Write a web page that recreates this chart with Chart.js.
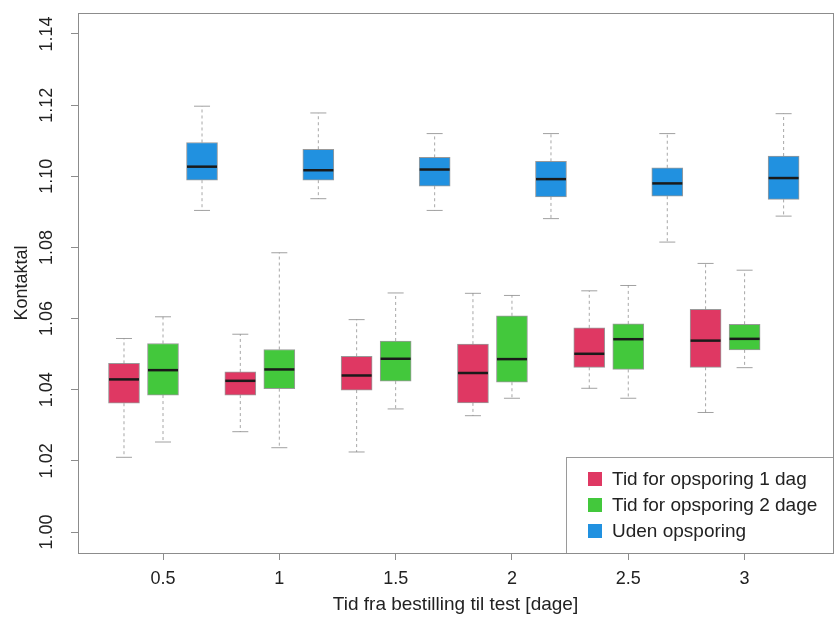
<!DOCTYPE html>
<html lang="da">
<head>
  <meta charset="UTF-8" />
  <title>Kontaktal</title>
  <style>
    html, body { margin: 0; padding: 0; background: #fff; }
    #wrap { width: 839px; height: 621px; }
  </style>
</head>
<body>
  <div id="wrap"><canvas id="boxChart"></canvas></div>

  <script src="https://cdn.jsdelivr.net/npm/chart.js"></script>
  <script>
    // x positions (days) and y tick values
    const tider = [0.5, 1, 1.5, 2, 2.5, 3];
    const yTicks = [1.00, 1.02, 1.04, 1.06, 1.08, 1.10, 1.12, 1.14];
    const serier = ['Tid for opsporing 1 dag', 'Tid for opsporing 2 dage', 'Uden opsporing'];
    const farver = ['#df3863', '#43c83c', '#2191e0'];

    // each row: [min, q1, median, q3, max]
    const opsporing1 = [
      [1.0210, 1.0362, 1.0429, 1.0474, 1.0544],
      [1.0282, 1.0385, 1.0425, 1.0450, 1.0556],
      [1.0225, 1.0399, 1.0440, 1.0494, 1.0597],
      [1.0327, 1.0363, 1.0447, 1.0528, 1.0671],
      [1.0404, 1.0463, 1.0501, 1.0574, 1.0678],
      [1.0336, 1.0463, 1.0538, 1.0626, 1.0755]
    ];
    const opsporing2 = [
      [1.0253, 1.0385, 1.0455, 1.0530, 1.0605],
      [1.0237, 1.0403, 1.0457, 1.0513, 1.0785],
      [1.0346, 1.0424, 1.0487, 1.0537, 1.0672],
      [1.0376, 1.0421, 1.0486, 1.0608, 1.0665],
      [1.0376, 1.0457, 1.0542, 1.0585, 1.0693],
      [1.0462, 1.0512, 1.0543, 1.0584, 1.0736]
    ];
    const udenOpsporing = [
      [1.0904, 1.0989, 1.1027, 1.1095, 1.1197],
      [1.0937, 1.0989, 1.1017, 1.1076, 1.1178],
      [1.0904, 1.0972, 1.1019, 1.1053, 1.1120],
      [1.0881, 1.0942, 1.0992, 1.1042, 1.1120],
      [1.0815, 1.0944, 1.0980, 1.1024, 1.1120],
      [1.0888, 1.0935, 1.0995, 1.1057, 1.1176]
    ];

    const alleSerier = [opsporing1, opsporing2, udenOpsporing];
    const forskydning = [-0.1677, 0, 0.1677];
    const fontFamily = '"Liberation Sans", Arial, Helvetica, sans-serif';

    const datasets = alleSerier.map((serie, i) => ({
      label: serier[i],
      data: serie.map((s, j) => ({ x: tider[j] + forskydning[i], y: [s[1], s[3]], stats: s })),
      backgroundColor: farver[i],
      borderColor: 'rgba(70,70,70,0.55)',
      borderWidth: 1,
      borderSkipped: false,
      barThickness: 31,
      grouped: false
    }));

    // whiskers, caps, medians, frame and legend
    const boxPlugin = {
      id: 'boxParts',
      afterDatasetsDraw(chart) {
        const ctx = chart.ctx;
        const yScale = chart.scales.y;
        ctx.save();
        chart.data.datasets.forEach((ds, i) => {
          const meta = chart.getDatasetMeta(i);
          meta.data.forEach((bar, j) => {
            const s = ds.data[j].stats;
            const cx = bar.x;
            const yMin = yScale.getPixelForValue(s[0]);
            const yQ1 = yScale.getPixelForValue(s[1]);
            const yMed = yScale.getPixelForValue(s[2]);
            const yQ3 = yScale.getPixelForValue(s[3]);
            const yMax = yScale.getPixelForValue(s[4]);

            ctx.strokeStyle = 'rgba(130,130,130,0.7)';
            ctx.lineWidth = 1;
            ctx.setLineDash([3, 3]);
            ctx.beginPath();
            ctx.moveTo(cx, yQ3); ctx.lineTo(cx, yMax);
            ctx.moveTo(cx, yQ1); ctx.lineTo(cx, yMin);
            ctx.stroke();

            ctx.setLineDash([]);
            ctx.strokeStyle = 'rgba(130,130,130,0.75)';
            ctx.beginPath();
            ctx.moveTo(cx - 8, yMax); ctx.lineTo(cx + 8, yMax);
            ctx.moveTo(cx - 8, yMin); ctx.lineTo(cx + 8, yMin);
            ctx.stroke();

            ctx.strokeStyle = '#1a1a1a';
            ctx.lineWidth = 2.5;
            ctx.beginPath();
            ctx.moveTo(cx - 15, yMed); ctx.lineTo(cx + 15, yMed);
            ctx.stroke();
          });
        });
        ctx.restore();
      },
      afterDraw(chart) {
        const ctx = chart.ctx;
        const a = chart.chartArea;
        ctx.save();

        // legend box in the lower right corner
        const lw = 267, lh = 96;
        const lx = a.right - lw, ly = a.bottom - lh;
        ctx.fillStyle = '#fff';
        ctx.fillRect(lx, ly, lw, lh);
        ctx.strokeStyle = '#9a9a9a';
        ctx.lineWidth = 1;
        ctx.strokeRect(lx + 0.5, ly + 0.5, lw, lh);
        ctx.font = '19px ' + fontFamily;
        ctx.textBaseline = 'middle';
        serier.forEach((navn, i) => {
          const rowY = ly + 22 + i * 26;
          ctx.fillStyle = farver[i];
          ctx.fillRect(lx + 22, rowY - 7, 14, 14);
          ctx.fillStyle = '#222';
          ctx.fillText(navn, lx + 46, rowY + 1);
        });

        // plot frame
        ctx.strokeStyle = '#8c8c8c';
        ctx.lineWidth = 1;
        ctx.strokeRect(a.left + 0.5, a.top + 0.5, a.right - a.left, a.bottom - a.top);
        ctx.restore();
      }
    };

    new Chart(document.getElementById('boxChart'), {
      type: 'bar',
      data: { datasets: datasets },
      options: {
        responsive: true,
        maintainAspectRatio: false,
        animation: false,
        layout: { padding: { top: 13, right: 6, left: 0, bottom: 0 } },
        plugins: {
          legend: { display: false },
          tooltip: { enabled: false }
        },
        scales: {
          x: {
            type: 'linear',
            offset: false,
            min: 0.1346,
            max: 3.38,
            afterBuildTicks: scale => { scale.ticks = tider.map(v => ({ value: v })); },
            afterFit: scale => { scale.height = 68; scale.paddingLeft = 0; scale.paddingRight = 0; },
            grid: { drawOnChartArea: false, offset: false, tickLength: 7, color: '#8c8c8c' },
            border: { display: false },
            ticks: {
              color: '#222',
              padding: 8,
              font: { size: 18, family: fontFamily },
              callback: v => String(v)
            },
            title: {
              display: true,
              text: 'Tid fra bestilling til test [dage]',
              color: '#222',
              font: { size: 19, family: fontFamily },
              padding: { top: 0, bottom: 5 }
            }
          },
          y: {
            min: 0.9941,
            max: 1.1459,
            afterBuildTicks: scale => { scale.ticks = yTicks.map(v => ({ value: v })); },
            afterFit: scale => { scale.width = 78; scale.paddingTop = 0; scale.paddingBottom = 0; },
            grid: { drawOnChartArea: false, tickLength: 7, color: '#8c8c8c' },
            border: { display: false },
            ticks: {
              color: '#222',
              padding: 6,
              minRotation: 90,
              maxRotation: 90,
              crossAlign: 'center',
              font: { size: 18, family: fontFamily },
              callback: v => v.toFixed(2)
            },
            title: {
              display: true,
              text: 'Kontaktal',
              color: '#222',
              font: { size: 18, family: fontFamily },
              padding: { top: 11, bottom: 0 }
            }
          }
        }
      },
      plugins: [boxPlugin]
    });
  </script>
</body>
</html>
